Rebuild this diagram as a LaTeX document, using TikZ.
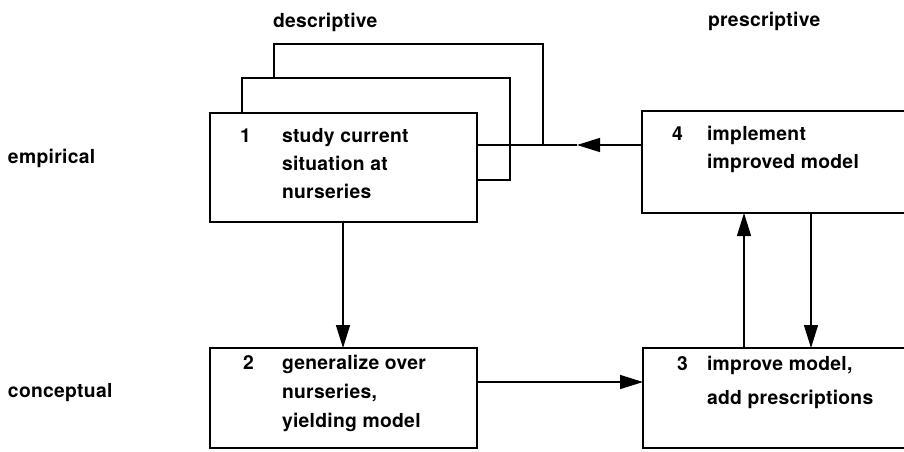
\documentclass[tikz,border=0pt]{standalone}
\usepackage{fontspec}
\newfontfamily\labfont{TeX Gyre Heros}[LetterSpace=1.5]
\usetikzlibrary{arrows.meta}
\begin{document}
\begin{tikzpicture}[x=1pt,y=-1pt,
  every node/.style={outer sep=0pt},
  box/.style={draw, fill=white, line width=1.4pt, rectangle, anchor=north west, inner sep=0pt},
  lbl/.style={anchor=base west, inner sep=0pt, font=\labfont\bfseries\fontsize{19.3}{24}\selectfont},
  link/.style={line width=1.4pt},
  arr/.style={line width=1.4pt, -{Triangle[length=23pt,width=14pt]}}]
\useasboundingbox (0,0) rectangle (904,451);
\clip (0,0) rectangle (904,451);

% column and row headings
\node[lbl] (hdesc) at (273,27) {descriptive};
\node[lbl] (hpres) at (708,26) {prescriptive};
\node[lbl] (hemp)  at (8,163)  {empirical};
\node[lbl] (hcon)  at (8,397)  {conceptual};

% step 1: a stack of three boxes, back to front
\node[box, minimum width=269pt, minimum height=101pt] (b1c) at (274,44) {};
\node[box, minimum width=268pt, minimum height=102pt] (b1b) at (242,78) {};
\node[box, minimum width=267pt, minimum height=109pt] (b1)  at (210,113) {};
\node[lbl] (n1)  at (240,142) {1};
\node[lbl] (t1a) at (282,142) {study current};
\node[lbl] (t1b) at (282,170) {situation at};
\node[lbl] (t1c) at (282,198) {nurseries};

% step 2
\node[box, minimum width=267pt, minimum height=100pt] (b2) at (210,348) {};
\node[lbl] (n2)  at (243,369) {2};
\node[lbl] (t2a) at (282,369) {generalize over};
\node[lbl] (t2b) at (282,398) {nurseries,};
\node[lbl] (t2c) at (282,427) {yielding model};

% step 3 (runs off the right edge)
\node[box, minimum width=320pt, minimum height=100pt] (b3) at (643,348) {};
\node[lbl] (n3)  at (677,370) {3};
\node[lbl] (t3a) at (707,370) {improve model,};
\node[lbl] (t3b) at (707,404) {add prescriptions};

% step 4 (runs off the right edge)
\node[box, minimum width=320pt, minimum height=102pt] (b4) at (642,111) {};
\node[lbl] (n4)  at (672,140) {4};
\node[lbl] (t4a) at (707,140) {implement};
\node[lbl] (t4b) at (707,168) {improved model};

% connectors
\coordinate (fb) at (577,145);
\draw[arr]  (b4.west |- fb) -- (fb);
\draw[link] (fb) -- (b1.east |- fb);
\draw[arr]  (b1.south -| 343,0) -- (b2.north -| 343,0);
\draw[arr]  (b2.east |- 0,382) -- (b3.west |- 0,382);
\draw[arr]  (b3.north -| 744,0) -- (b4.south -| 744,0);
\draw[arr]  (b4.south -| 811,0) -- (b3.north -| 811,0);
\end{tikzpicture}
\end{document}
